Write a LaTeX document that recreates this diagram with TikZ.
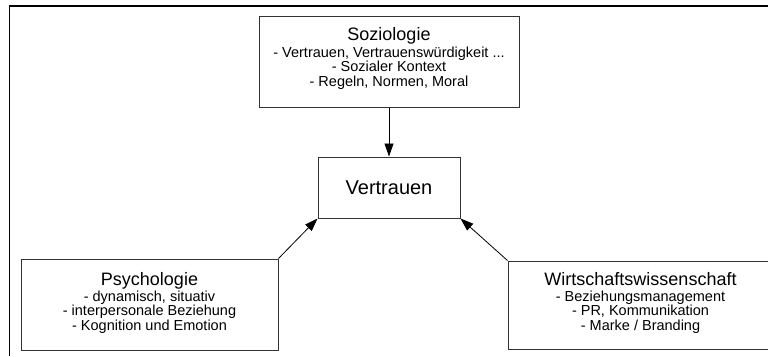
\documentclass[tikz,border=0pt]{standalone}
\usepackage{fontspec}
\setmainfont{Liberation Sans}
\usetikzlibrary{arrows.meta}
\newcommand{\headfont}{\fontsize{18}{18}\selectfont}
\begin{document}
\begin{tikzpicture}[x=1pt, y=-1pt,
  box/.style={draw=black!80, line width=1pt, inner sep=0pt},
  body/.style={align=center, inner sep=0pt, anchor=north,
    font=\fontsize{14.5}{14.5}\selectfont},
  link/.style={draw=black, line width=0.8pt,
    -{Triangle[length=13pt, width=9pt]}},
  frame/.style={draw=black, line width=1.2pt}]
  \useasboundingbox (0,0) rectangle (768,356);
  \clip (0,0) rectangle (768,356);

  % outer frame (top and left edges)
  \coordinate (fbl) at (9.5,356);
  \coordinate (ftl) at (9.5,6);
  \coordinate (ftr) at (768,6);
  \draw[frame] (fbl) -- (ftl) -- (ftr);

  % central concept
  \node[box, minimum width=142pt, minimum height=61pt,
        font=\fontsize{20}{24}\selectfont] (ver) at (389,187.5) {Vertrauen};

  % disciplines
  \node[box, minimum width=260pt, minimum height=91pt] (soz) at (389,61.5) {};
  \node[body] (soztext) at (389,27.6)
    {{\headfont Soziologie}\\[1.8pt]
     - Vertrauen, Vertrauenswürdigkeit ...\\
     - Sozialer Kontext\\
     - Regeln, Normen, Moral};

  \node[box, minimum width=257pt, minimum height=91pt] (psy) at (149.5,304.5) {};
  \node[body] (psytext) at (149.5,271.8)
    {{\headfont Psychologie}\\[1.8pt]
     - dynamisch, situativ\\
     - interpersonale Beziehung\\
     - Kognition und Emotion};

  \node[box, minimum width=265pt, minimum height=88.5pt] (wir) at (640.5,305.25) {};
  \node[body] (wirtext) at (640.5,271.9)
    {{\headfont Wirtschaftswissenschaft}\\[1.8pt]
     - Beziehungsmanagement\\
     - PR, Kommunikation\\
     - Marke / Branding};

  % influences on trust
  \draw[link] (soz.south) -- (ver.north);
  \draw[link] (psy.north east) -- (ver.south west);
  \draw[link] (wir.north west) -- (ver.south east);
\end{tikzpicture}
\end{document}
